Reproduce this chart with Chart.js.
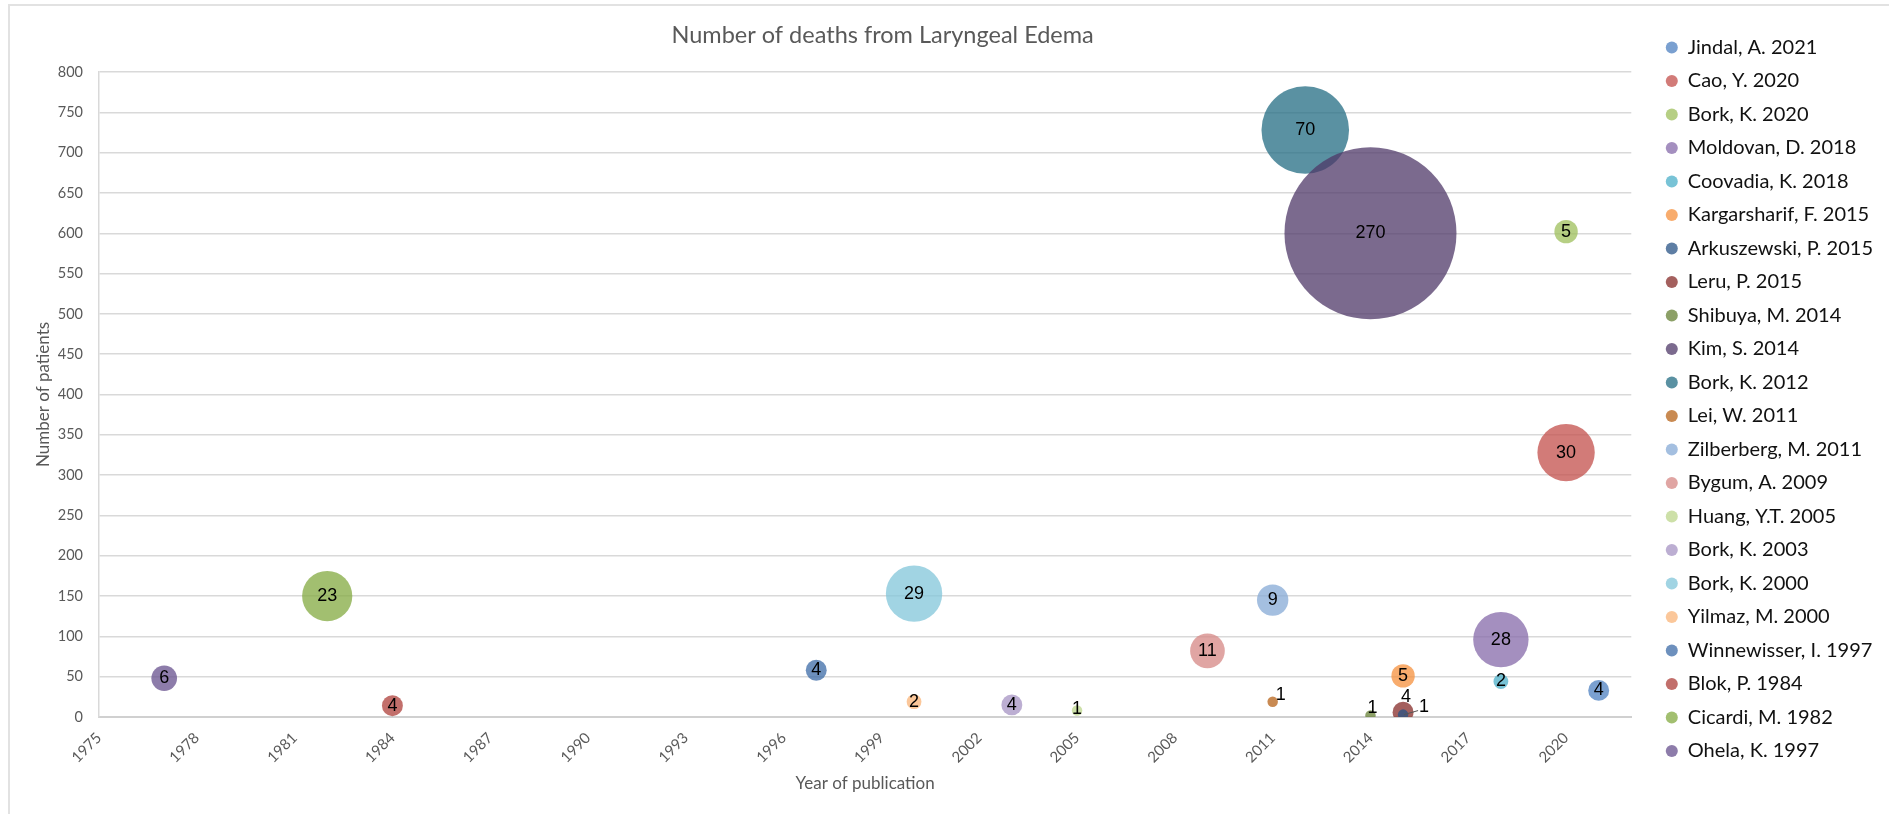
<!DOCTYPE html>
<html lang="en">
<head>
  <meta charset="UTF-8">
  <title>Number of deaths from Laryngeal Edema</title>
  <script src="https://cdn.jsdelivr.net/npm/chart.js"></script>
  <style>
    body {
      margin: 0;
      overflow: hidden;
      background: #fff;
    }

    .frame {
      position: absolute;
      left: 8px;
      top: 4px;
      width: 1920px;
      height: 900px;
      border: 2px solid #e2e2e2;
    }

    .wrap {
      position: absolute;
      left: 0;
      top: 0;
      width: 1889px;
      height: 814px;
    }
  </style>
</head>
<body>
  <div class="frame"></div>
  <div class="wrap">
    <canvas id="bubbleChart"></canvas>
  </div>

  <script>
    // Studies, in legend order
    const studies = [
      'Jindal, A. 2021', 'Cao, Y. 2020', 'Bork, K. 2020', 'Moldovan, D. 2018',
      'Coovadia, K. 2018', 'Kargarsharif, F. 2015', 'Arkuszewski, P. 2015', 'Leru, P. 2015',
      'Shibuya, M. 2014', 'Kim, S. 2014', 'Bork, K. 2012', 'Lei, W. 2011',
      'Zilberberg, M. 2011', 'Bygum, A. 2009', 'Huang, Y.T. 2005', 'Bork, K. 2003',
      'Bork, K. 2000', 'Yilmaz, M. 2000', 'Winnewisser, I. 1997', 'Blok, P. 1984',
      'Cicardi, M. 1982', 'Ohela, K. 1997'
    ];

    // x: year of publication as plotted
    const pubYear = [2021, 2020, 2020, 2018, 2018, 2015, 2015, 2015, 2014, 2014, 2012, 2011,
                     2011, 2009, 2005, 2003, 2000, 2000, 1997, 1984, 1982, 1977];

    // y: number of patients
    const patients = [33, 328, 602, 96, 44, 51, 3, 6, 2, 600, 728, 19,
                      145, 82, 8, 15, 153, 19, 58, 14, 150, 48];

    // bubble size: number of deaths (also the label)
    const deaths = [4, 30, 5, 28, 2, 5, 1, 4, 1, 270, 70, 1,
                    9, 11, 1, 4, 29, 2, 4, 4, 23, 6];

    // axis ticks
    const yearTicks = [1975, 1978, 1981, 1984, 1987, 1990, 1993, 1996, 1999,
                       2002, 2005, 2008, 2011, 2014, 2017, 2020];
    const yearRange = [1975, 2022];
    const patientTicks = { min: 0, max: 800, step: 50 };

    // series colours (drawn at 75% opacity)
    const seriesColors = [
      [77, 128, 192], [195, 79, 75], [157, 191, 91], [133, 105, 169],
      [75, 175, 200], [245, 144, 60], [40, 83, 133], [133, 43, 40],
      [101, 128, 52], [79, 56, 104], [35, 108, 131], [183, 99, 24],
      [133, 169, 213], [213, 135, 132], [188, 213, 139], [165, 147, 195],
      [129, 197, 217], [249, 180, 120], [60, 107, 167], [173, 63, 57],
      [131, 169, 64], [103, 80, 141]
    ];

    const R_MAX = 86;
    const maxDeaths = Math.max(...deaths);

    // small labels that sit beside their bubble instead of on it
    const labelNudge = {
      'Lei, W. 2011': [8, -7],
      'Shibuya, M. 2014': [2, -7],
      'Huang, Y.T. 2005': [0, -2],
      'Leru, P. 2015': [3, -15],
      'Arkuszewski, P. 2015': [21, -8]
    };

    const bubbleLabels = {
      id: 'bubbleLabels',
      afterLayout(chart) {
        // title sits a little right of the plot centre
        chart.titleBlock.left += 35;
      },
      afterDatasetsDraw(chart) {
        const ctx = chart.ctx;
        ctx.save();
        ctx.font = '18px "Liberation Sans", Arial, sans-serif';
        ctx.fillStyle = '#000';
        ctx.textAlign = 'center';
        ctx.textBaseline = 'middle';
        chart.data.datasets.forEach((ds, i) => {
          const pt = chart.getDatasetMeta(i).data[0];
          const nudge = labelNudge[ds.label] || [0, 0];
          if (ds.label === 'Arkuszewski, P. 2015') {
            ctx.strokeStyle = '#555';
            ctx.lineWidth = 1;
            ctx.beginPath();
            ctx.moveTo(pt.x + 1, pt.y);
            ctx.lineTo(pt.x + nudge[0] - 6, pt.y + nudge[1] + 4);
            ctx.stroke();
          }
          ctx.fillText(String(deaths[i]), pt.x + nudge[0], pt.y + nudge[1]);
        });
        ctx.restore();
      }
    };

    const datasets = studies.map((name, i) => ({
      label: name,
      data: [{ x: pubYear[i], y: patients[i], r: R_MAX * Math.sqrt(deaths[i] / maxDeaths) }],
      backgroundColor: 'rgba(' + seriesColors[i].join(',') + ',0.75)',
      borderWidth: 0,
      hoverBorderWidth: 0
    }));

    const grey = '#595959';
    const uiFont = 'Lato, "Open Sans", sans-serif';

    const ctx = document.getElementById('bubbleChart').getContext('2d');
    const myChart = new Chart(ctx, {
      type: 'bubble',
      data: { datasets: datasets },
      plugins: [bubbleLabels],
      options: {
        responsive: true,
        maintainAspectRatio: false,
        animation: false,
        events: [],
        layout: { autoPadding: false, padding: { left: 10, top: 8, right: 6, bottom: 0 } },
        plugins: {
          title: {
            display: true,
            text: 'Number of deaths from Laryngeal Edema',
            fullSize: false,
            color: grey,
            font: { family: uiFont, size: 23.5, weight: 'normal' },
            padding: { top: 13, bottom: 22.8 }
          },
          legend: {
            position: 'right',
            align: 'start',
            title: { display: true, text: '', padding: 0, font: { size: 10, lineHeight: 1.6 } },
            labels: {
              usePointStyle: true,
              pointStyle: 'circle',
              boxWidth: 12,
              boxHeight: 8.5,
              padding: 13.5,
              color: '#111',
              font: { family: uiFont, size: 20 }
            }
          },
          tooltip: { enabled: false }
        },
        scales: {
          x: {
            type: 'linear',
            min: yearRange[0],
            max: yearRange[1],
            grid: { display: false, drawTicks: false },
            border: { display: true, color: '#d0d0d0', width: 2 },
            afterBuildTicks: s => { s.ticks = yearTicks.map(v => ({ value: v })); },
            ticks: {
              autoSkip: false,
              minRotation: 45,
              maxRotation: 45,
              padding: 12,
              color: grey,
              font: { family: uiFont, size: 15 },
              callback: v => String(v)
            },
            title: {
              display: true,
              text: 'Year of publication',
              color: grey,
              font: { family: uiFont, size: 17 },
              padding: { top: 0, bottom: 20 }
            },
            afterFit: s => { s.height = 97; }
          },
          y: {
            min: patientTicks.min,
            max: patientTicks.max,
            grid: { color: '#d9d9d9', lineWidth: 1.5, drawTicks: false },
            border: { display: true, color: '#d9d9d9', width: 1.5 },
            ticks: {
              stepSize: patientTicks.step,
              padding: 16,
              color: grey,
              font: { family: uiFont, size: 14.5 }
            },
            title: {
              display: true,
              text: 'Number of patients',
              color: grey,
              font: { family: uiFont, size: 17 },
              padding: { top: 23, bottom: 0 }
            },
            afterFit: s => { s.width = 89; }
          },
          gap: {
            type: 'linear',
            position: 'right',
            display: true,
            grid: { display: false },
            border: { display: false },
            ticks: { display: false },
            afterFit: s => { s.width = 21; }
          }
        }
      }
    });
  </script>
</body>
</html>
